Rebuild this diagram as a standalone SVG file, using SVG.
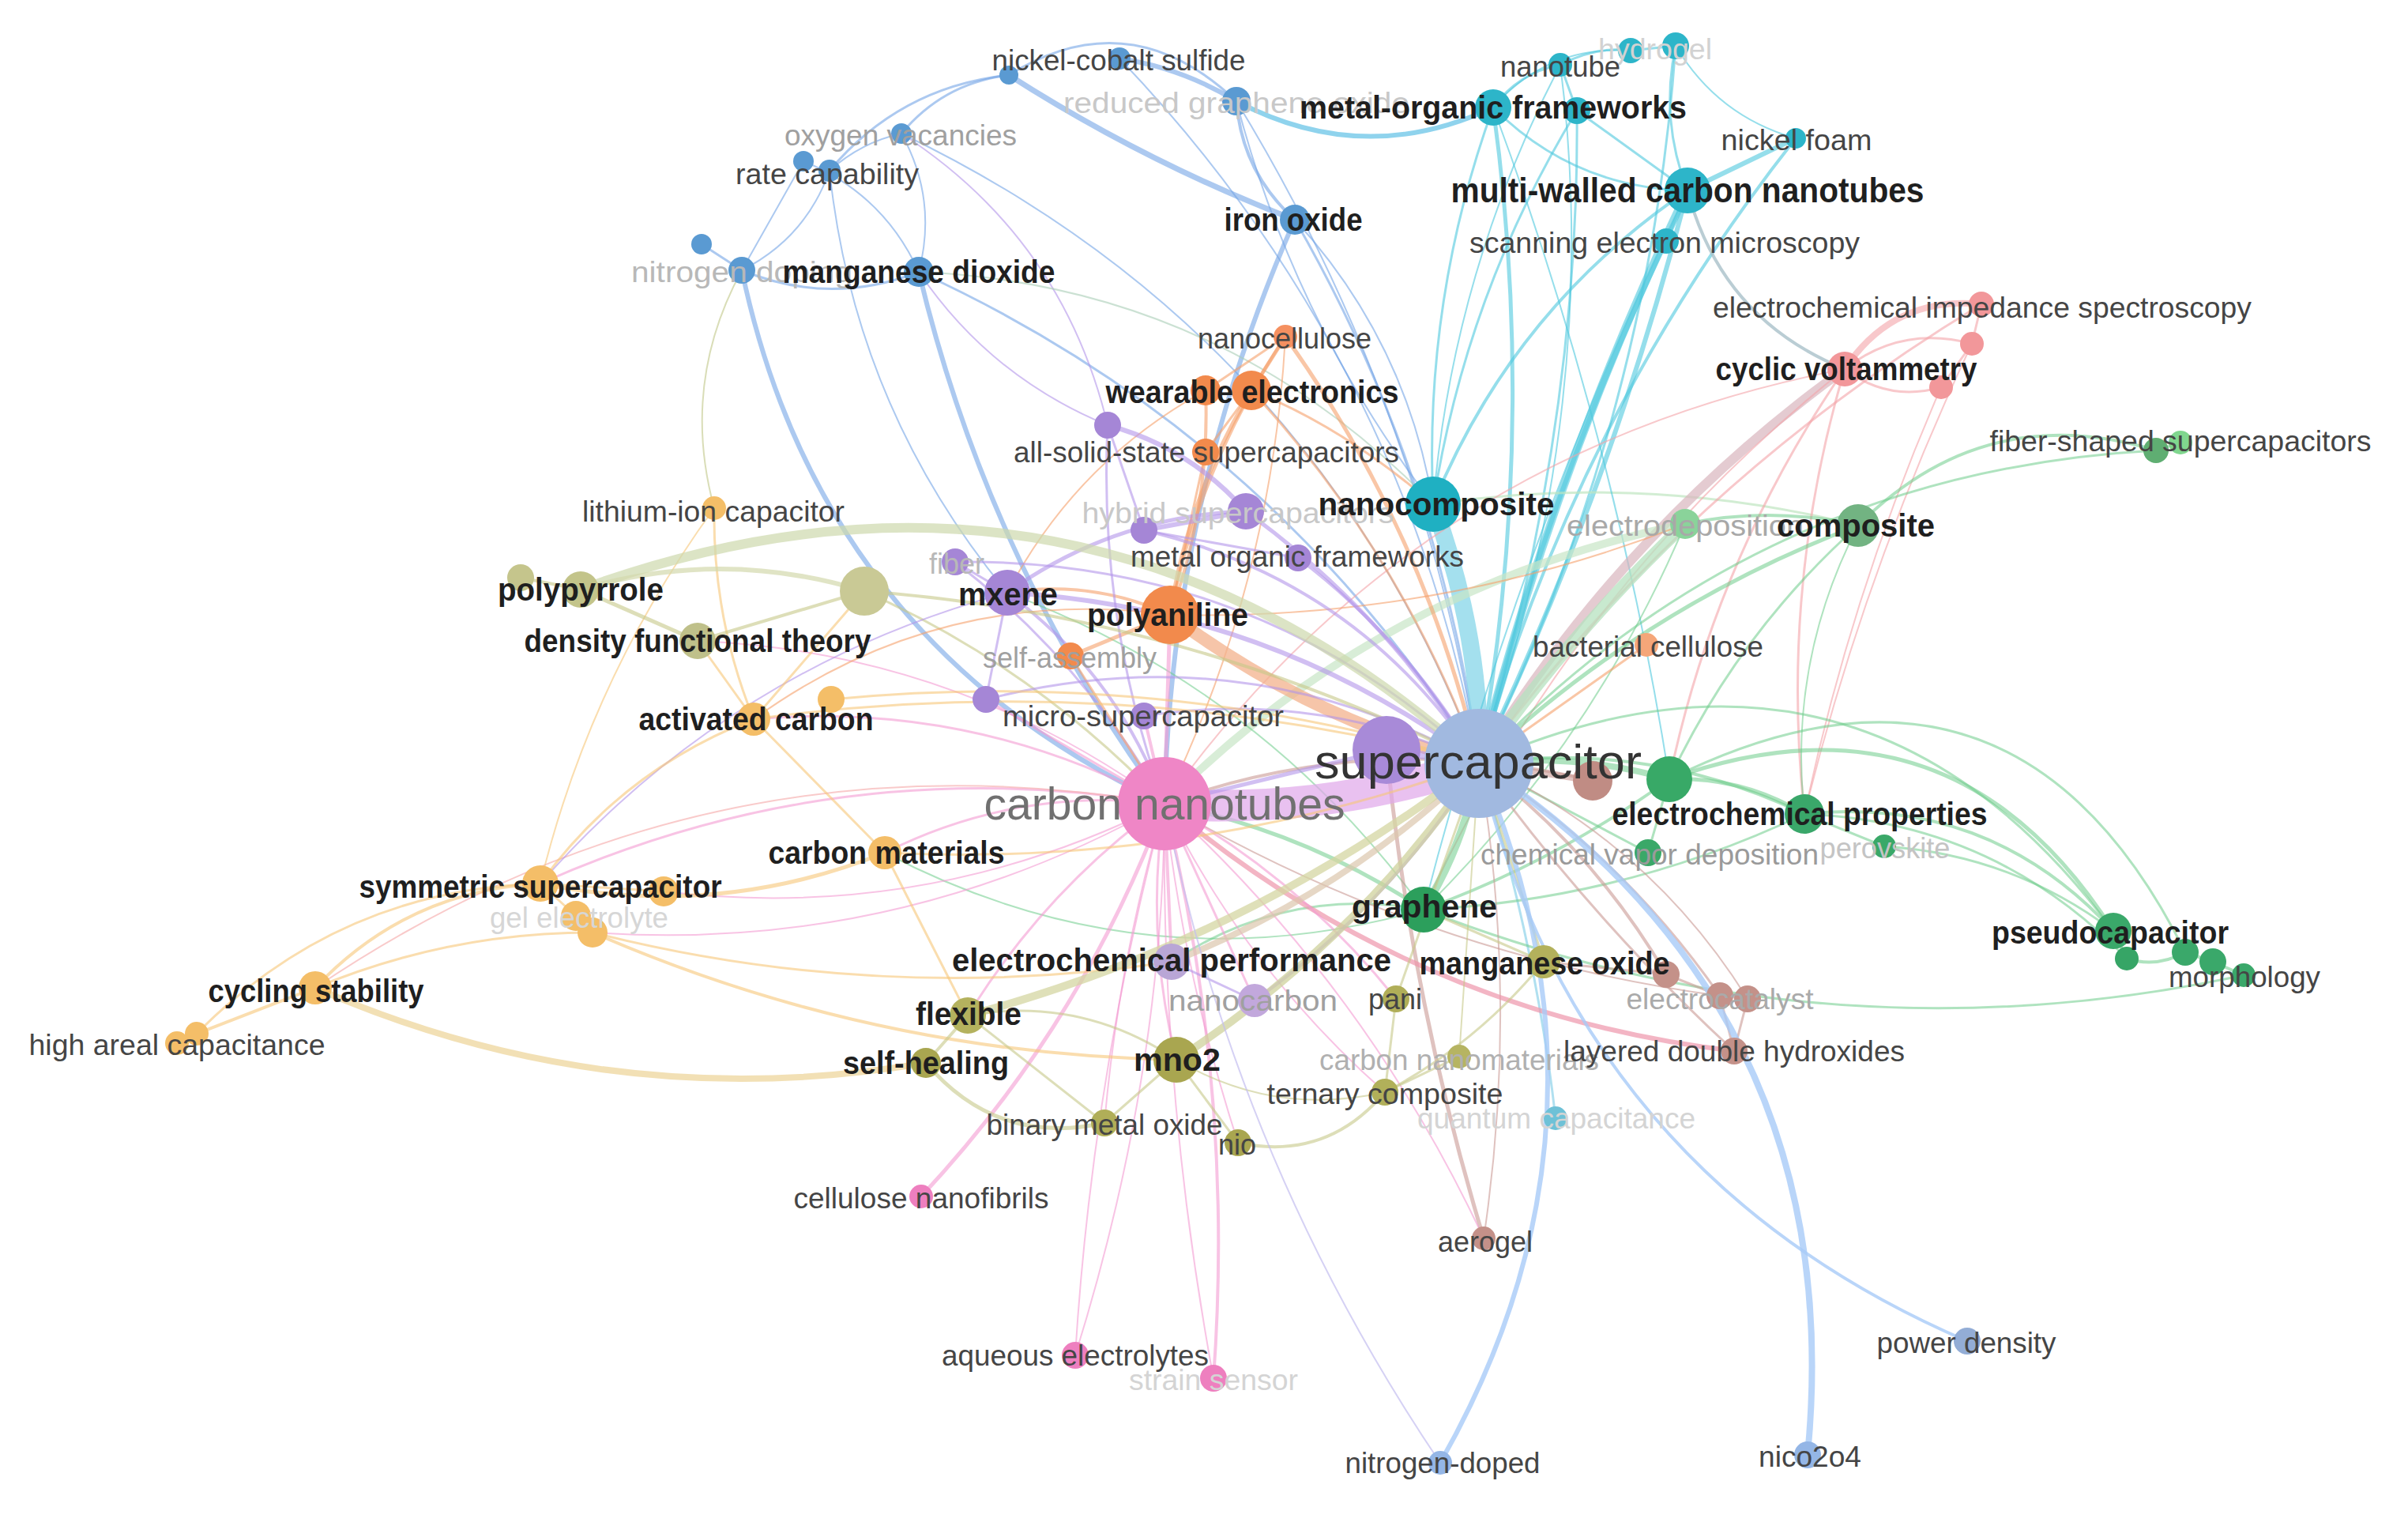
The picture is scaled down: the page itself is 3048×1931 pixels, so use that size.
<svg xmlns="http://www.w3.org/2000/svg" width="3048" height="1931" viewBox="0 0 3048 1931">
<style>
.c{fill:none;stroke-linecap:round}
.bl{stroke:#74a5e6;stroke-opacity:.6}
.cy{stroke:#4fc8de;stroke-opacity:.6}
.rd{stroke:#f3a3a9;stroke-opacity:.6}
.gn{stroke:#6ecc8a;stroke-opacity:.55}
.br{stroke:#c99a94;stroke-opacity:.6}
.pk{stroke:#f49bd2;stroke-opacity:.6}
.or{stroke:#f5a06a;stroke-opacity:.6}
.pu{stroke:#b394ea;stroke-opacity:.6}
.ye{stroke:#f6c778;stroke-opacity:.6}
.ol{stroke:#c6c888;stroke-opacity:.6}
.lb{stroke:#a7caf7;stroke-opacity:.8}
text{font-family:"Liberation Sans",Arial,sans-serif;text-anchor:middle}
.b{font-weight:bold;font-size:40px;fill:#1f1f1f}
.r{font-size:37px;fill:#454545}
.f{font-size:37px}
</style>
<rect width="3048" height="1931" fill="#ffffff"/>
<g id="connectors">
<!-- blue -->
<path class="c bl" stroke-width="2" d="M939 342 Q1020 301 1050 216"/>
<path class="c bl" stroke-width="3" d="M939 342 Q1051 388 1163 344"/>
<path class="c bl" stroke-width="2" d="M1163 344 Q1118 245 1017 204"/>
<path class="c bl" stroke-width="2" d="M1163 344 Q1187 252 1141 169"/>
<path class="c bl" stroke-width="3" d="M1050 216 Q1139 110 1277 95"/>
<path class="c bl" stroke-width="3" d="M1141 169 Q1194 105 1277 95"/>
<path class="c bl" stroke-width="3" d="M1277 95 Q1430 0 1565 128"/>
<path class="c bl" stroke-width="6" d="M1417 74 Q1496 86 1565 128"/>
<path class="c bl" stroke-width="7" d="M1277 95 Q1449 205 1639 278"/>
<path class="c bl" stroke-width="4" d="M1565 128 Q1572 218 1639 278"/>
<path class="c bl" stroke-width="6" d="M1639 278 Q1483 631 1474 1017"/>
<path class="c bl" stroke-width="3" d="M1639 278 Q1824 599 1872 966"/>
<path class="c bl" stroke-width="6" d="M1163 344 Q1251 712 1474 1017"/>
<path class="c bl" stroke-width="6" d="M939 342 Q1038 813 1474 1017"/>
<path class="c bl" stroke-width="3" d="M1163 344 Q1611 549 1872 966"/>
<path class="c bl" stroke-width="2" d="M1141 169 Q1666 421 1872 966"/>
<path class="c bl" stroke-width="2" d="M1417 74 Q1778 452 1872 966"/>
<path class="c bl" stroke-width="2" d="M1565 128 Q1802 516 1872 966"/>
<path class="c" stroke="#5fc0e6" stroke-opacity=".7" stroke-width="6" d="M1565 128 Q1726 213 1890 136"/>
<path class="c bl" stroke-width="2" d="M1565 128 Q1638 408 1814 638"/>
<path class="c bl" stroke-width="2" d="M1050 216 Q1082 517 1275 750"/>
<path class="c pu" stroke-width="2" d="M1141 169 Q1345 301 1402 538"/>
<path class="c" stroke="#c9cf98" stroke-opacity=".7" stroke-width="2" d="M939 342 Q861 485 904 643"/>
<path class="c bl" stroke-width="2" d="M1017 204 L939 342"/>
<path class="c bl" stroke-width="3" d="M888 309 L939 342"/>
<path class="c bl" stroke-width="2" d="M1639 278 Q1780 432 1814 638"/>
<path class="c" stroke="#a9cdb6" stroke-opacity=".6" stroke-width="2" d="M1163 344 Q1547 361 1814 638"/>
<path class="c bl" stroke-width="2" d="M1141 169 Q1090 180 1050 216"/>
<!-- cyan -->
<path class="c cy" stroke-width="3" d="M1890 136 Q1922 92 1975 82"/>
<path class="c cy" stroke-width="3" d="M1975 82 Q2020 58 2064 64"/>
<path class="c cy" stroke-width="3" d="M2064 64 L2121 58"/>
<path class="c cy" stroke-width="2" d="M1890 136 Q1959 57 2064 64"/>
<path class="c cy" stroke-width="3" d="M1890 136 Q1992 238 2136 241"/>
<path class="c cy" stroke-width="3" d="M1890 136 Q1802 379 1814 638"/>
<path class="c cy" stroke-width="5" d="M1890 136 Q1947 550 1872 966"/>
<path class="c cy" stroke-width="3" d="M1996 140 Q1855 371 1814 638"/>
<path class="c cy" stroke-width="3" d="M1996 140 Q2000 543 1872 966"/>
<path class="c cy" stroke-width="3" d="M1975 82 L1996 140"/>
<path class="c cy" stroke-width="2" d="M1975 82 Q1839 344 1814 638"/>
<path class="c cy" stroke-width="3" d="M2121 58 Q2101 152 2136 241"/>
<path class="c cy" stroke-width="3" d="M2121 58 Q2087 537 1872 966"/>
<path class="c cy" stroke-width="10" d="M2136 241 Q1968 590 1872 966"/>
<path class="c cy" stroke-width="6" d="M2136 241 Q2040 617 1872 966"/>
<path class="c" stroke="#86d6e8" stroke-opacity=".75" stroke-width="22" d="M1814 638 Q1876 808 1872 966"/>
<path class="c cy" stroke-width="4" d="M2136 241 Q1915 391 1814 638"/>
<path class="c cy" stroke-width="6" d="M2273 175 L2136 241"/>
<path class="c cy" stroke-width="4" d="M2273 175 Q1993 530 1872 966"/>
<path class="c cy" stroke-width="6" d="M2109 305 Q1958 624 1872 966"/>
<path class="c cy" stroke-width="4" d="M2136 241 L2109 305"/>
<path class="c" stroke="#a9c1c9" stroke-opacity=".8" stroke-width="4" d="M2136 241 Q2179 404 2335 467"/>
<path class="c cy" stroke-width="3" d="M1996 140 L2136 241"/>
<path class="c cy" stroke-width="2" d="M2136 241 Q1923 679 1802 1151"/>
<path class="c cy" stroke-width="2" d="M2273 175 Q2174 147 2121 58"/>
<path class="c" stroke="#8fd3ea" stroke-opacity=".7" stroke-width="3" d="M1969 1415 Q1943 1186 1872 966"/>
<path class="c" stroke="#bfe5c0" stroke-opacity=".7" stroke-width="3" d="M1814 638 Q2086 598 2352 665"/>
<path class="c cy" stroke-width="2" d="M1890 136 Q2044 550 2113 986"/>
<path class="c cy" stroke-width="2" d="M1975 82 Q2030 512 1872 966"/>
<!-- red -->
<path class="c rd" stroke-width="8" d="M2508 385 Q2397 374 2335 467"/>
<path class="c rd" stroke-width="3" d="M2496 435 Q2407 411 2335 467"/>
<path class="c rd" stroke-width="3" d="M2335 467 Q2390 509 2457 490"/>
<path class="c rd" stroke-width="3" d="M2508 385 L2496 435"/>
<path class="c rd" stroke-width="3" d="M2496 435 L2457 490"/>
<path class="c" stroke="#d9b5bd" stroke-opacity=".7" stroke-width="12" d="M2335 467 Q2054 670 1872 966"/>
<path class="c rd" stroke-width="3" d="M2508 385 Q2132 612 1872 966"/>
<path class="c rd" stroke-width="3" d="M2335 467 Q2253 743 2284 1030"/>
<path class="c rd" stroke-width="2" d="M2457 490 Q2343 751 2284 1030"/>
<path class="c rd" stroke-width="2" d="M2496 435 Q2360 722 2284 1030"/>
<path class="c rd" stroke-width="3" d="M2335 467 Q2172 704 2113 986"/>
<path class="c rd" stroke-width="2" d="M2335 467 Q1986 745 1802 1151"/>
<path class="c rd" stroke-width="2" d="M2335 467 Q1794 570 1474 1017"/>
<!-- green -->
<path class="c" stroke="#b5e2bf" stroke-opacity=".75" stroke-width="16" d="M2133 663 Q1987 801 1872 966"/>
<path class="c" stroke="#c8e6c6" stroke-opacity=".7" stroke-width="10" d="M2133 663 Q1750 741 1474 1017"/>
<path class="c gn" stroke-width="5" d="M2352 665 Q2082 767 1872 966"/>
<path class="c gn" stroke-width="3" d="M2352 665 Q2200 801 2113 986"/>
<path class="c gn" stroke-width="2" d="M2352 665 Q2263 837 2284 1030"/>
<path class="c gn" stroke-width="4" d="M2729 570 Q2512 504 2352 665"/>
<path class="c gn" stroke-width="3" d="M2729 570 Q2221 597 1872 966"/>
<path class="c gn" stroke-width="5" d="M2113 986 Q2471 857 2675 1178"/>
<path class="c gn" stroke-width="3" d="M1872 966 Q2358 751 2675 1178"/>
<path class="c gn" stroke-width="4" d="M2284 1030 Q2517 1006 2675 1178"/>
<path class="c gn" stroke-width="3" d="M2284 1030 Q2525 1040 2692 1213"/>
<path class="c gn" stroke-width="3" d="M2113 986 Q2549 769 2766 1205"/>
<path class="c gn" stroke-width="3" d="M1802 1151 Q2308 1348 2840 1234"/>
<path class="c gn" stroke-width="3" d="M2284 1030 L2385 1071"/>
<path class="c gn" stroke-width="3" d="M2385 1071 Q2546 1081 2675 1178"/>
<path class="c gn" stroke-width="8" d="M2113 986 Q1994 952 1872 966"/>
<path class="c gn" stroke-width="5" d="M2113 986 Q2205 982 2284 1030"/>
<path class="c gn" stroke-width="10" d="M1802 1151 Q1855 1065 1872 966"/>
<path class="c gn" stroke-width="5" d="M1802 1151 Q1651 1051 1474 1017"/>
<path class="c gn" stroke-width="3" d="M1802 1151 Q2055 1139 2284 1030"/>
<path class="c gn" stroke-width="3" d="M2086 1079 L1872 966"/>
<path class="c gn" stroke-width="3" d="M1802 1151 Q1630 1120 1483 1217"/>
<path class="c gn" stroke-width="2" d="M1802 1151 Q1598 871 1275 750"/>
<path class="c gn" stroke-width="4" d="M2133 663 Q2242 640 2352 665"/>
<path class="c gn" stroke-width="2" d="M1802 1151 Q2016 940 2133 663"/>
<path class="c gn" stroke-width="4" d="M1872 966 Q2088 936 2284 1030"/>
<path class="c gn" stroke-width="2" d="M1802 1151 Q1447 1251 1120 1079"/>
<path class="c gn" stroke-width="3" d="M2729 570 L2760 560"/>
<path class="c gn" stroke-width="4" d="M2675 1178 L2692 1213"/>
<path class="c gn" stroke-width="4" d="M2692 1213 Q2730 1225 2766 1205"/>
<path class="c gn" stroke-width="4" d="M2766 1205 L2801 1217"/>
<path class="c gn" stroke-width="4" d="M2801 1217 L2840 1234"/>
<path class="c gn" stroke-width="4" d="M2113 986 Q1970 1090 1802 1151"/>
<path class="c gn" stroke-width="3" d="M2086 1079 L2113 986"/>
<!-- brown -->
<path class="c br" stroke-width="8" d="M2016 988 L1872 966"/>
<path class="c br" stroke-width="4" d="M2016 988 Q1741 921 1474 1017"/>
<path class="c br" stroke-width="4" d="M2109 1233 Q2017 1076 1872 966"/>
<path class="c br" stroke-width="3" d="M2177 1260 Q2054 1083 1872 966"/>
<path class="c br" stroke-width="2" d="M2212 1264 Q2087 1064 1872 966"/>
<path class="c br" stroke-width="3" d="M2195 1330 Q2015 1164 1872 966"/>
<path class="c br" stroke-width="5" d="M1878 1567 Q1786 1264 1755 949"/>
<path class="c br" stroke-width="2" d="M1878 1567 Q1923 1266 1872 966"/>
<path class="c br" stroke-width="3" d="M2177 1260 L2195 1330"/>
<path class="c br" stroke-width="3" d="M2212 1264 L2195 1330"/>
<path class="c br" stroke-width="3" d="M1954 1217 L2109 1233"/>
<path class="c br" stroke-width="3" d="M2109 1233 L2177 1260"/>
<path class="c br" stroke-width="3" d="M2177 1260 L2212 1264"/>
<path class="c br" stroke-width="2" d="M2177 1260 Q1801 1209 1474 1017"/>
<!-- pink -->
<path class="c" stroke="#dfa7ea" stroke-opacity=".7" stroke-width="40" d="M1474 1017 Q1678 1031 1872 966"/>
<path class="c" stroke="#ee95ab" stroke-opacity=".7" stroke-width="6" d="M1474 1017 Q1788 1282 2195 1330"/>
<path class="c pk" stroke-width="5" d="M1474 1017 Q1370 1296 1166 1514"/>
<path class="c pk" stroke-width="2" d="M1474 1017 Q1473 1357 1361 1715"/>
<path class="c pk" stroke-width="2" d="M1474 1017 Q1383 1360 1361 1715"/>
<path class="c pk" stroke-width="4" d="M1474 1017 Q1563 1376 1536 1744"/>
<path class="c pk" stroke-width="2" d="M1474 1017 Q1469 1384 1536 1744"/>
<path class="c pk" stroke-width="4" d="M1474 1017 L1483 1217"/>
<path class="c pk" stroke-width="3" d="M1474 1017 Q1449 1180 1489 1341"/>
<path class="c pk" stroke-width="3" d="M1474 1017 Q1323 1126 1225 1285"/>
<path class="c pk" stroke-width="3" d="M1474 1017 Q1288 995 1120 1079"/>
<path class="c pk" stroke-width="3" d="M1474 1017 Q1230 886 954 910"/>
<path class="c pk" stroke-width="3" d="M1474 1017 Q1064 949 684 1118"/>
<path class="c" stroke="#f6b3b3" stroke-opacity=".7" stroke-width="2" d="M1474 1017 Q890 918 399 1250"/>
<path class="c pk" stroke-width="2" d="M1474 1017 Q1209 825 883 811"/>
<path class="c pk" stroke-width="3" d="M1474 1017 L1588 1266"/>
<path class="c pk" stroke-width="2" d="M1474 1017 Q1136 1207 750 1180"/>
<path class="c pk" stroke-width="4" d="M1474 1017 L1448 906"/>
<path class="c pu" stroke-width="4" d="M1474 1017 Q1415 854 1275 750"/>
<path class="c pk" stroke-width="5" d="M1474 1017 L1481 778"/>
<path class="c pu" stroke-width="5" d="M1474 1017 L1755 949"/>
<path class="c pk" stroke-width="3" d="M1474 1017 Q1645 1111 1767 1264"/>
<path class="c pk" stroke-width="2" d="M1474 1017 Q1577 1227 1753 1382"/>
<path class="c pk" stroke-width="2" d="M1474 1017 Q1731 1252 1878 1567"/>
<path class="c pk" stroke-width="2" d="M1474 1017 Q1499 1236 1567 1446"/>
<path class="c pk" stroke-width="2" d="M1474 1017 Q1416 1215 1398 1421"/>
<path class="c pk" stroke-width="3" d="M1474 1017 L1248 885"/>
<path class="c pu" stroke-width="3" d="M1474 1017 Q1372 838 1209 711"/>
<path class="c ol" stroke-width="3" d="M1474 1017 Q1311 845 1094 748"/>
<path class="c or" stroke-width="3" d="M1474 1017 L1355 830"/>
<path class="c or" stroke-width="2" d="M1474 1017 Q1610 737 1627 426"/>
<path class="c pk" stroke-width="2" d="M840 1128 Q1174 1168 1474 1017"/>
<!-- orange -->
<path class="c" stroke="#f3b28c" stroke-opacity=".75" stroke-width="16" d="M1481 778 Q1658 911 1872 966"/>
<path class="c or" stroke-width="5" d="M1627 426 Q1803 672 1872 966"/>
<path class="c or" stroke-width="5" d="M1627 426 L1584 494"/>
<path class="c or" stroke-width="4" d="M1627 426 Q1519 587 1481 778"/>
<path class="c or" stroke-width="5" d="M1584 494 Q1504 626 1481 778"/>
<path class="c or" stroke-width="4" d="M1526 494 Q1532 640 1481 778"/>
<path class="c or" stroke-width="3" d="M1584 494 Q1775 701 1872 966"/>
<path class="c or" stroke-width="3" d="M1584 494 L1526 572"/>
<path class="c or" stroke-width="3" d="M1526 572 L1481 778"/>
<path class="c or" stroke-width="3" d="M1584 494 Q1700 540 1814 638"/>
<path class="c or" stroke-width="5" d="M1355 830 L1481 778"/>
<path class="c or" stroke-width="4" d="M1481 778 Q1382 733 1275 750"/>
<path class="c or" stroke-width="3" d="M2084 816 L1872 966"/>
<path class="c or" stroke-width="2" d="M1481 778 Q1819 786 2133 663"/>
<path class="c or" stroke-width="2" d="M1481 778 Q1191 739 954 910"/>
<path class="c or" stroke-width="3" d="M1526 494 L1627 426"/>
<path class="c or" stroke-width="2" d="M1526 494 Q1362 584 1275 750"/>
<!-- purple -->
<path class="c pu" stroke-width="10" d="M1755 949 L1872 966"/>
<path class="c pu" stroke-width="6" d="M1275 750 Q1606 768 1872 966"/>
<path class="c pu" stroke-width="6" d="M1448 671 L1577 647"/>
<path class="c pu" stroke-width="6" d="M1402 538 Q1506 566 1577 647"/>
<path class="c pu" stroke-width="5" d="M1577 647 Q1756 777 1872 966"/>
<path class="c pu" stroke-width="5" d="M1275 750 Q1411 653 1577 647"/>
<path class="c pu" stroke-width="4" d="M1448 671 Q1719 734 1872 966"/>
<path class="c pu" stroke-width="4" d="M1643 706 Q1784 813 1872 966"/>
<path class="c pu" stroke-width="3" d="M1275 750 L1248 885"/>
<path class="c pu" stroke-width="3" d="M1209 711 L1275 750"/>
<path class="c pu" stroke-width="3" d="M1209 711 Q1592 706 1872 966"/>
<path class="c pu" stroke-width="3" d="M1402 538 Q1390 785 1474 1017"/>
<path class="c pu" stroke-width="2" d="M1402 538 Q1253 477 1163 344"/>
<path class="c pu" stroke-width="3" d="M1448 906 Q1669 872 1872 966"/>
<path class="c pu" stroke-width="3" d="M1248 885 Q1576 801 1872 966"/>
<path class="c pu" stroke-width="2" d="M1275 750 Q924 845 684 1118"/>
<path class="c" stroke="#dcc6ac" stroke-opacity=".7" stroke-width="8" d="M1483 1217 Q1703 1130 1872 966"/>
<path class="c pu" stroke-width="4" d="M1588 1266 Q1760 1144 1872 966"/>
<path class="c pu" stroke-width="3" d="M1588 1266 L1483 1217"/>
<path class="c pu" stroke-width="3" d="M1448 671 L1402 538"/>
<path class="c pu" stroke-width="3" d="M1448 671 L1643 706"/>
<!-- yellow -->
<path class="c ye" stroke-width="4" d="M399 1250 Q515 1127 684 1118"/>
<path class="c ye" stroke-width="4" d="M399 1250 L249 1308"/>
<path class="c ye" stroke-width="3" d="M249 1308 Q428 1126 684 1118"/>
<path class="c ye" stroke-width="3" d="M224 1320 L249 1308"/>
<path class="c" stroke="#efd8a2" stroke-opacity=".8" stroke-width="8" d="M399 1250 Q771 1413 1172 1345"/>
<path class="c ye" stroke-width="3" d="M399 1250 Q567 1180 750 1180"/>
<path class="c ye" stroke-width="5" d="M684 1118 Q908 1164 1120 1079"/>
<path class="c ye" stroke-width="3" d="M684 1118 Q788 974 954 910"/>
<path class="c ye" stroke-width="3" d="M684 1118 L840 1128"/>
<path class="c ye" stroke-width="4" d="M750 1180 Q1103 1334 1489 1341"/>
<path class="c ye" stroke-width="3" d="M750 1180 Q1113 1272 1483 1217"/>
<path class="c ye" stroke-width="3" d="M954 910 Q1419 846 1872 966"/>
<path class="c ye" stroke-width="3" d="M904 643 Q902 782 954 910"/>
<path class="c ye" stroke-width="2" d="M904 643 Q747 859 684 1118"/>
<path class="c ye" stroke-width="3" d="M1052 885 Q1470 844 1872 966"/>
<path class="c ye" stroke-width="3" d="M1120 1079 Q1507 1098 1872 966"/>
<path class="c ye" stroke-width="3" d="M1120 1079 L1225 1285"/>
<path class="c ye" stroke-width="3" d="M954 910 L1120 1079"/>
<path class="c ye" stroke-width="3" d="M954 910 L1094 748"/>
<path class="c ye" stroke-width="3" d="M684 1118 L729 1159"/>
<path class="c ye" stroke-width="3" d="M729 1159 L750 1180"/>
<path class="c ye" stroke-width="3" d="M954 910 L883 811"/>
<!-- olive -->
<path class="c" stroke="#cdd8ad" stroke-opacity=".7" stroke-width="12" d="M735 746 Q1370 515 1872 966"/>
<path class="c ol" stroke-width="4" d="M735 746 L659 731"/>
<path class="c ol" stroke-width="5" d="M735 746 L883 811"/>
<path class="c ol" stroke-width="4" d="M1094 748 Q1505 779 1872 966"/>
<path class="c ol" stroke-width="4" d="M1094 748 L883 811"/>
<path class="c" stroke="#d3d8ac" stroke-opacity=".7" stroke-width="6" d="M1094 748 Q914 693 735 746"/>
<path class="c" stroke="#d4d6a2" stroke-opacity=".75" stroke-width="10" d="M1225 1285 Q1580 1190 1872 966"/>
<path class="c" stroke="#cfd19c" stroke-opacity=".75" stroke-width="10" d="M1489 1341 Q1718 1192 1872 966"/>
<path class="c ol" stroke-width="4" d="M1225 1285 L1172 1345"/>
<path class="c ol" stroke-width="3" d="M1225 1285 Q1368 1260 1489 1341"/>
<path class="c ol" stroke-width="5" d="M1172 1345 Q1262 1451 1398 1421"/>
<path class="c ol" stroke-width="3" d="M1489 1341 L1398 1421"/>
<path class="c ol" stroke-width="3" d="M1489 1341 L1567 1446"/>
<path class="c ol" stroke-width="4" d="M1567 1446 Q1679 1470 1753 1382"/>
<path class="c ol" stroke-width="3" d="M1753 1382 L1847 1337"/>
<path class="c ol" stroke-width="3" d="M1753 1382 Q1870 1320 1954 1217"/>
<path class="c ol" stroke-width="3" d="M1767 1264 L1753 1382"/>
<path class="c ol" stroke-width="4" d="M1954 1217 L1872 966"/>
<path class="c ol" stroke-width="3" d="M1767 1264 L1872 966"/>
<path class="c ol" stroke-width="3" d="M1954 1217 L1802 1151"/>
<path class="c ol" stroke-width="3" d="M1398 1421 L1225 1285"/>
<path class="c ol" stroke-width="2" d="M1847 1337 L1872 966"/>
<path class="c ol" stroke-width="2" d="M1489 1341 Q1613 1414 1753 1382"/>
<!-- light blue -->
<path class="c lb" stroke-width="8" d="M2288 1841 Q2342 1279 1872 966"/>
<path class="c lb" stroke-width="6" d="M1823 1851 Q2068 1421 1872 966"/>
<path class="c lb" stroke-width="4" d="M2490 1697 Q1998 1486 1872 966"/>
<path class="c" stroke="#c3bdf0" stroke-opacity=".7" stroke-width="2" d="M1823 1851 Q1565 1469 1474 1017"/>
</g>
<g id="nodes">
<!-- unlabeled nodes -->
<g id="node-u1"><circle cx="1277" cy="95" r="12" fill="#5a9ad2"/></g>
<g id="node-u2"><circle cx="1017" cy="204" r="13" fill="#5a9ad2"/></g>
<g id="node-u3"><circle cx="888" cy="309" r="13" fill="#5a9ad2"/></g>
<g id="node-u4"><circle cx="1996" cy="140" r="17" fill="#2db5c9"/></g>
<g id="node-u5"><circle cx="2064" cy="64" r="16" fill="#2db5c9"/></g>
<g id="node-u6"><circle cx="2496" cy="435" r="15" fill="#f2979a"/></g>
<g id="node-u7"><circle cx="2457" cy="490" r="15" fill="#f2979a"/></g>
<g id="node-u8"><circle cx="2729" cy="570" r="16" fill="#5fae72"/></g>
<g id="node-u9"><circle cx="2113" cy="986" r="29" fill="#38a967"/></g>
<g id="node-u10"><circle cx="2692" cy="1213" r="15" fill="#36a566"/></g>
<g id="node-u11"><circle cx="2766" cy="1205" r="17" fill="#3aa86a"/></g>
<g id="node-u12"><circle cx="2801" cy="1217" r="17" fill="#3aa86a"/></g>
<g id="node-u13"><circle cx="2016" cy="988" r="25" fill="#c08c84"/></g>
<g id="node-u14"><circle cx="2109" cy="1233" r="17" fill="#c49189"/></g>
<g id="node-u15"><circle cx="2212" cy="1264" r="17" fill="#c49189"/></g>
<g id="node-u16"><circle cx="1526" cy="494" r="19" fill="#f28a4c"/></g>
<g id="node-u17"><circle cx="1402" cy="538" r="17" fill="#a586d6"/></g>
<g id="node-u18"><circle cx="1448" cy="671" r="17" fill="#a586d6"/></g>
<g id="node-u19"><circle cx="1248" cy="885" r="17" fill="#a586d6"/></g>
<g id="node-u20"><circle cx="1755" cy="949" r="43" fill="#a88ad8"/></g>
<g id="node-u21"><circle cx="1052" cy="885" r="17" fill="#f4be68"/></g>
<g id="node-u22"><circle cx="840" cy="1128" r="19" fill="#f4be68"/></g>
<g id="node-u23"><circle cx="750" cy="1180" r="19" fill="#f4be68"/></g>
<g id="node-u24"><circle cx="249" cy="1308" r="15" fill="#f4be68"/></g>
<g id="node-u25"><circle cx="659" cy="731" r="17" fill="#c5c58c"/></g>
<g id="node-u26"><circle cx="1094" cy="748" r="31" fill="#c9c995"/></g>
<!-- faded label nodes -->
<g id="node-reduced-graphene-oxide"><circle cx="1565" cy="128" r="18" fill="#5a9ad2"/><text class="f" fill="#c8c8c8" x="1565" y="143" textLength="438" lengthAdjust="spacingAndGlyphs">reduced graphene oxide</text></g>
<g id="node-oxygen-vacancies"><circle cx="1141" cy="169" r="13" fill="#5a9ad2"/><text class="f" fill="#a0a0a0" x="1140" y="184" textLength="294" lengthAdjust="spacingAndGlyphs">oxygen vacancies</text></g>
<g id="node-nitrogen-doping"><circle cx="939" cy="342" r="17" fill="#5a9ad2"/><text class="f" fill="#b8b8b8" x="939" y="357" textLength="280" lengthAdjust="spacingAndGlyphs">nitrogen doping</text></g>
<g id="node-hydrogel"><circle cx="2121" cy="58" r="17" fill="#2db5c9"/><text class="f" fill="#d2d2d2" x="2095" y="75" textLength="144" lengthAdjust="spacingAndGlyphs">hydrogel</text></g>
<g id="node-quantum-capacitance"><circle cx="1969" cy="1415" r="15" fill="#6ec1d7"/><text class="f" fill="#d4d4d4" x="1970" y="1428" textLength="352" lengthAdjust="spacingAndGlyphs">quantum capacitance</text></g>
<g id="node-electrodeposition"><circle cx="2133" cy="663" r="19" fill="#8ad39a"/><text class="f" fill="#a8a8a8" x="2133" y="678" textLength="300" lengthAdjust="spacingAndGlyphs">electrodeposition</text></g>
<g id="node-chemical-vapor-deposition"><circle cx="2086" cy="1079" r="17" fill="#3aa868"/><text class="f" fill="#9a9a9a" x="2088" y="1094" textLength="428" lengthAdjust="spacingAndGlyphs">chemical vapor deposition</text></g>
<g id="node-perovskite"><circle cx="2385" cy="1071" r="15" fill="#3aa868"/><text class="f" fill="#c4c4c4" x="2386" y="1086" textLength="165" lengthAdjust="spacingAndGlyphs">perovskite</text></g>
<g id="node-electrocatalyst"><circle cx="2177" cy="1260" r="17" fill="#c49189"/><text class="f" fill="#aaaaaa" x="2177" y="1277" textLength="237" lengthAdjust="spacingAndGlyphs">electrocatalyst</text></g>
<g id="node-self-assembly"><circle cx="1355" cy="830" r="17" fill="#f28a4c"/><text class="f" fill="#a0a0a0" x="1354" y="845" textLength="220" lengthAdjust="spacingAndGlyphs">self-assembly</text></g>
<g id="node-hybrid-supercapacitors"><circle cx="1577" cy="647" r="23" fill="#a586d6"/><text class="f" fill="#c8c8c8" x="1567" y="662" textLength="395" lengthAdjust="spacingAndGlyphs">hybrid supercapacitors</text></g>
<g id="node-fiber"><circle cx="1209" cy="711" r="17" fill="#a586d6"/><text class="f" fill="#b8b8b8" x="1211" y="726" textLength="70" lengthAdjust="spacingAndGlyphs">fiber</text></g>
<g id="node-nanocarbon"><circle cx="1588" cy="1266" r="21" fill="#c2a8dc"/><text class="f" fill="#a0a0a0" x="1586" y="1279" textLength="214" lengthAdjust="spacingAndGlyphs">nanocarbon</text></g>
<g id="node-strain-sensor"><circle cx="1536" cy="1744" r="17" fill="#ee7fbf"/><text class="f" fill="#d4d4d4" x="1536" y="1759" textLength="214" lengthAdjust="spacingAndGlyphs">strain sensor</text></g>
<g id="node-gel-electrolyte"><circle cx="729" cy="1159" r="19" fill="#f4be68"/><text class="f" fill="#d6d6d6" x="733" y="1174" textLength="226" lengthAdjust="spacingAndGlyphs">gel electrolyte</text></g>
<g id="node-carbon-nanomaterials"><circle cx="1847" cy="1337" r="15" fill="#b6b462"/><text class="f" fill="#b0b0b0" x="1847" y="1354" textLength="354" lengthAdjust="spacingAndGlyphs">carbon nanomaterials</text></g>
<!-- regular label nodes -->
<g id="node-nickel-cobalt-sulfide"><circle cx="1417" cy="74" r="14" fill="#5a9ad2"/><text class="r" x="1416" y="89" textLength="321" lengthAdjust="spacingAndGlyphs">nickel-cobalt sulfide</text></g>
<g id="node-rate-capability"><circle cx="1050" cy="216" r="14" fill="#5a9ad2"/><text class="r" x="1047" y="233" textLength="232" lengthAdjust="spacingAndGlyphs">rate capability</text></g>
<g id="node-nanotube"><circle cx="1975" cy="82" r="15" fill="#2db5c9"/><text class="r" x="1975" y="97" textLength="152" lengthAdjust="spacingAndGlyphs">nanotube</text></g>
<g id="node-nickel-foam"><circle cx="2273" cy="175" r="13" fill="#2db5c9"/><text class="r" x="2274" y="190" textLength="191" lengthAdjust="spacingAndGlyphs">nickel foam</text></g>
<g id="node-scanning-electron-microscopy"><circle cx="2109" cy="305" r="16" fill="#2db5c9"/><text class="r" x="2107" y="320" textLength="494" lengthAdjust="spacingAndGlyphs">scanning electron microscopy</text></g>
<g id="node-electrochemical-impedance-spectroscopy"><circle cx="2508" cy="385" r="16" fill="#f2979a"/><text class="r" x="2509" y="402" textLength="682" lengthAdjust="spacingAndGlyphs">electrochemical impedance spectroscopy</text></g>
<g id="node-fiber-shaped-supercapacitors"><circle cx="2760" cy="560" r="15" fill="#80d68e"/><text class="r" x="2760" y="571" textLength="483" lengthAdjust="spacingAndGlyphs">fiber-shaped supercapacitors</text></g>
<g id="node-morphology"><circle cx="2840" cy="1234" r="15" fill="#3aa86a"/><text class="r" x="2841" y="1249" textLength="192" lengthAdjust="spacingAndGlyphs">morphology</text></g>
<g id="node-layered-double-hydroxides"><circle cx="2195" cy="1330" r="17" fill="#c49189"/><text class="r" x="2195" y="1343" textLength="432" lengthAdjust="spacingAndGlyphs">layered double hydroxides</text></g>
<g id="node-aerogel"><circle cx="1878" cy="1567" r="15" fill="#c49189"/><text class="r" x="1880" y="1584" textLength="120" lengthAdjust="spacingAndGlyphs">aerogel</text></g>
<g id="node-nanocellulose"><circle cx="1627" cy="426" r="15" fill="#f59060"/><text class="r" x="1626" y="441" textLength="220" lengthAdjust="spacingAndGlyphs">nanocellulose</text></g>
<g id="node-all-solid-state-supercapacitors"><circle cx="1526" cy="572" r="17" fill="#f28a4c"/><text class="r" x="1527" y="585" textLength="488" lengthAdjust="spacingAndGlyphs">all-solid-state supercapacitors</text></g>
<g id="node-bacterial-cellulose"><circle cx="2084" cy="816" r="15" fill="#f5a679"/><text class="r" x="2086" y="831" textLength="292" lengthAdjust="spacingAndGlyphs">bacterial cellulose</text></g>
<g id="node-metal-organic-frameworks-2"><circle cx="1643" cy="706" r="17" fill="#a586d6"/><text class="r" x="1642" y="717" textLength="422" lengthAdjust="spacingAndGlyphs">metal organic frameworks</text></g>
<g id="node-micro-supercapacitor"><circle cx="1448" cy="906" r="17" fill="#a586d6"/><text class="r" x="1447" y="919" textLength="356" lengthAdjust="spacingAndGlyphs">micro-supercapacitor</text></g>
<g id="node-cellulose-nanofibrils"><circle cx="1166" cy="1514" r="15" fill="#ee7fbf"/><text class="r" x="1166" y="1529" textLength="323" lengthAdjust="spacingAndGlyphs">cellulose nanofibrils</text></g>
<g id="node-aqueous-electrolytes"><circle cx="1361" cy="1715" r="17" fill="#ee7fbf"/><text class="r" x="1361" y="1728" textLength="338" lengthAdjust="spacingAndGlyphs">aqueous electrolytes</text></g>
<g id="node-nitrogen-doped"><circle cx="1823" cy="1851" r="15" fill="#94b6e6"/><text class="r" x="1826" y="1864" textLength="247" lengthAdjust="spacingAndGlyphs">nitrogen-doped</text></g>
<g id="node-nico2o4"><circle cx="2288" cy="1841" r="17" fill="#94b6e6"/><text class="r" x="2291" y="1856" textLength="130" lengthAdjust="spacingAndGlyphs">nico2o4</text></g>
<g id="node-power-density"><circle cx="2490" cy="1697" r="17" fill="#93add6"/><text class="r" x="2489" y="1712" textLength="227" lengthAdjust="spacingAndGlyphs">power density</text></g>
<g id="node-lithium-ion-capacitor"><circle cx="904" cy="643" r="15" fill="#f4be68"/><text class="r" x="903" y="660" textLength="332" lengthAdjust="spacingAndGlyphs">lithium-ion capacitor</text></g>
<g id="node-high-areal-capacitance"><circle cx="224" cy="1320" r="15" fill="#f4be68"/><text class="r" x="224" y="1335" textLength="375" lengthAdjust="spacingAndGlyphs">high areal capacitance</text></g>
<g id="node-binary-metal-oxide"><circle cx="1398" cy="1421" r="17" fill="#b0ae58"/><text class="r" x="1398" y="1436" textLength="299" lengthAdjust="spacingAndGlyphs">binary metal oxide</text></g>
<g id="node-nio"><circle cx="1567" cy="1446" r="17" fill="#a9a650"/><text class="r" x="1566" y="1461" textLength="48" lengthAdjust="spacingAndGlyphs">nio</text></g>
<g id="node-ternary-composite"><circle cx="1753" cy="1382" r="17" fill="#b1b05a"/><text class="r" x="1753" y="1397" textLength="299" lengthAdjust="spacingAndGlyphs">ternary composite</text></g>
<g id="node-pani"><circle cx="1767" cy="1264" r="17" fill="#b0ae58"/><text class="r" fill="#6a6a6a" x="1766" y="1277" textLength="68" lengthAdjust="spacingAndGlyphs">pani</text></g>
<!-- bold label nodes -->
<g id="node-iron-oxide"><circle cx="1639" cy="278" r="19" fill="#5a9ad2"/><text class="b" x="1637" y="292" textLength="175" lengthAdjust="spacingAndGlyphs">iron oxide</text></g>
<g id="node-manganese-dioxide"><circle cx="1163" cy="344" r="19" fill="#5a9ad2"/><text class="b" x="1163" y="358" textLength="345" lengthAdjust="spacingAndGlyphs">manganese dioxide</text></g>
<g id="node-metal-organic-frameworks"><circle cx="1890" cy="136" r="23" fill="#2db5c9"/><text class="b" x="1890" y="150" textLength="490" lengthAdjust="spacingAndGlyphs">metal-organic frameworks</text></g>
<g id="node-multi-walled-carbon-nanotubes"><circle cx="2136" cy="241" r="29" fill="#2db5c9"/><text class="b" style="font-size:44px" x="2136" y="256" textLength="599" lengthAdjust="spacingAndGlyphs">multi-walled carbon nanotubes</text></g>
<g id="node-nanocomposite"><circle cx="1814" cy="638" r="35" fill="#1fb0c2"/><text class="b" x="1818" y="652" textLength="299" lengthAdjust="spacingAndGlyphs">nanocomposite</text></g>
<g id="node-cyclic-voltammetry"><circle cx="2335" cy="467" r="22" fill="#f2979a"/><text class="b" x="2337" y="481" textLength="331" lengthAdjust="spacingAndGlyphs">cyclic voltammetry</text></g>
<g id="node-composite"><circle cx="2352" cy="665" r="27" fill="#72b382"/><text class="b" x="2349" y="679" textLength="200" lengthAdjust="spacingAndGlyphs">composite</text></g>
<g id="node-electrochemical-properties"><circle cx="2284" cy="1030" r="25" fill="#3aa76a"/><text class="b" fill="#555555" x="2278" y="1044" textLength="475" lengthAdjust="spacingAndGlyphs">electrochemical properties</text></g>
<g id="node-graphene"><circle cx="1802" cy="1151" r="29" fill="#2c9f5c"/><text class="b" x="1803" y="1161" textLength="184" lengthAdjust="spacingAndGlyphs">graphene</text></g>
<g id="node-pseudocapacitor"><circle cx="2675" cy="1178" r="23" fill="#3aa86a"/><text class="b" x="2671" y="1194" textLength="300" lengthAdjust="spacingAndGlyphs">pseudocapacitor</text></g>
<g id="node-wearable-electronics"><circle cx="1584" cy="494" r="25" fill="#f28a4c"/><text class="b" x="1585" y="510" textLength="371" lengthAdjust="spacingAndGlyphs">wearable electronics</text></g>
<g id="node-polyaniline"><circle cx="1481" cy="778" r="37" fill="#f28a4c"/><text class="b" x="1478" y="792" textLength="204" lengthAdjust="spacingAndGlyphs">polyaniline</text></g>
<g id="node-mxene"><circle cx="1275" cy="750" r="29" fill="#a586d6"/><text class="b" x="1276" y="766" textLength="126" lengthAdjust="spacingAndGlyphs">mxene</text></g>
<g id="node-electrochemical-performance"><circle cx="1483" cy="1217" r="23" fill="#b9a6d6"/><text class="b" x="1483" y="1229" textLength="556" lengthAdjust="spacingAndGlyphs">electrochemical performance</text></g>
<g id="node-manganese-oxide"><circle cx="1954" cy="1217" r="21" fill="#b3b15c"/><text class="b" x="1955" y="1233" textLength="317" lengthAdjust="spacingAndGlyphs">manganese oxide</text></g>
<g id="node-mno2"><circle cx="1489" cy="1341" r="29" fill="#a9a650"/><text class="b" x="1490" y="1355" textLength="110" lengthAdjust="spacingAndGlyphs">mno2</text></g>
<g id="node-flexible"><circle cx="1225" cy="1285" r="23" fill="#b4b25e"/><text class="b" x="1226" y="1297" textLength="134" lengthAdjust="spacingAndGlyphs">flexible</text></g>
<g id="node-self-healing"><circle cx="1172" cy="1345" r="19" fill="#a9a650"/><text class="b" x="1172" y="1359" textLength="210" lengthAdjust="spacingAndGlyphs">self-healing</text></g>
<g id="node-carbon-materials"><circle cx="1120" cy="1079" r="21" fill="#f4be68"/><text class="b" x="1122" y="1093" textLength="299" lengthAdjust="spacingAndGlyphs">carbon materials</text></g>
<g id="node-activated-carbon"><circle cx="954" cy="910" r="21" fill="#f4be68"/><text class="b" x="957" y="924" textLength="297" lengthAdjust="spacingAndGlyphs">activated carbon</text></g>
<g id="node-density-functional-theory"><circle cx="883" cy="811" r="23" fill="#bfc08a"/><text class="b" x="883" y="825" textLength="439" lengthAdjust="spacingAndGlyphs">density functional theory</text></g>
<g id="node-polypyrrole"><circle cx="735" cy="746" r="23" fill="#c3c48a"/><text class="b" x="735" y="760" textLength="210" lengthAdjust="spacingAndGlyphs">polypyrrole</text></g>
<g id="node-symmetric-supercapacitor"><circle cx="684" cy="1118" r="23" fill="#f4be68"/><text class="b" x="684" y="1136" textLength="459" lengthAdjust="spacingAndGlyphs">symmetric supercapacitor</text></g>
<g id="node-cycling-stability"><circle cx="399" cy="1250" r="21" fill="#f4be68"/><text class="b" x="400" y="1268" textLength="273" lengthAdjust="spacingAndGlyphs">cycling stability</text></g>
<!-- main nodes -->
<g id="node-carbon-nanotubes"><circle cx="1474" cy="1017" r="59" fill="#ef86c6"/><text style="font-size:58px" fill="#707070" x="1474" y="1037" textLength="457" lengthAdjust="spacingAndGlyphs">carbon nanotubes</text></g>
<g id="node-supercapacitor"><circle cx="1872" cy="966" r="69" fill="#a1b9e0"/><text style="font-size:62px" fill="#333333" x="1871" y="985" textLength="414" lengthAdjust="spacingAndGlyphs">supercapacitor</text></g>
</g>
</svg>
